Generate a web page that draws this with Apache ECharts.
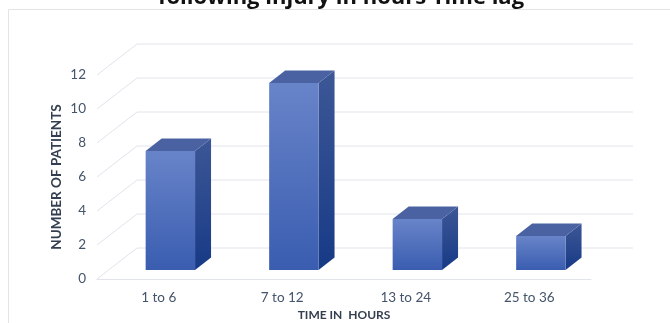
<!DOCTYPE html>
<html><head><meta charset="utf-8">
<script src="https://cdn.jsdelivr.net/npm/echarts@6/dist/echarts.min.js"></script>
<style>html,body{margin:0;padding:0;background:#fff}#c{width:670px;height:323px}</style>
</head><body><div id="c"></div>
<script>
const categories = ['1 to 6', '7 to 12', '13 to 24', '25 to 36'];
const patients = [7, 11, 3, 2];
const yTicks = [0, 2, 4, 6, 8, 10, 12];
const titleText = 'following injury in hours Time lag';
const xTitle = 'TIME IN  HOURS';
const yTitle = 'NUMBER OF PATIENTS';

const DX = 40, DY = -31;      // full depth offset of the 3D box
const ZF = 0.29, ZB = 0.69;   // bar front / back depth fraction
const gridColor = '#e1e4eb';

const chart = echarts.init(document.getElementById('c'), null, {renderer: 'canvas'});
chart.setOption({
  backgroundColor: '#fff',
  animation: false,
  graphic: [
    {type: 'rect', shape: {x: 8.5, y: 9.5, width: 700, height: 400}, style: {fill: 'none', stroke: '#e4e4e4', lineWidth: 1}, z: -10},
    {type: 'text', x: 341, y: -2, style: {text: titleText, font: 'bold 22px "Open Sans"', fill: '#111', textAlign: 'center', textVerticalAlign: 'middle'}}
  ],
  grid: {left: 97, right: 79, top: 75, bottom: 44, containLabel: false, outerBoundsMode: 'none'},
  xAxis: {
    type: 'category', data: categories,
    axisLine: {show: true, lineStyle: {color: gridColor, width: 1}},
    axisTick: {show: false},
    axisLabel: {color: '#44546a', fontFamily: 'Lato', fontSize: 13.5, margin: 12},
    name: xTitle, nameLocation: 'middle', nameGap: 30, nameMoveOverlap: false,
    nameTextStyle: {color: '#333f50', fontFamily: 'Lato', fontWeight: 'bold', fontSize: 12}
  },
  yAxis: {
    type: 'value', min: 0, max: 12, interval: 2,
    axisLine: {show: false}, axisTick: {show: false},
    splitLine: {show: false},
    axisLabel: {color: '#44546a', fontFamily: 'Lato', fontSize: 13.5, margin: 11},
    name: yTitle, nameLocation: 'middle', nameGap: 33, nameMoveOverlap: false,
    nameTextStyle: {color: '#333f50', fontFamily: 'Lato', fontWeight: 'bold', fontSize: 13.5}
  },
  series: [
    {
      type: 'custom', z: 1,
      data: yTicks.map(v => [0, v]),
      encode: {x: 0, y: 1},
      renderItem: function (params, api) {
        const cs = params.coordSys;
        const y = api.coord([0, api.value(1)])[1];
        const x0 = cs.x, x1 = cs.x + cs.width;
        return {
          type: 'polyline',
          shape: {points: [[x0, y], [x0 + DX, y + DY], [x1 + DX + 2, y + DY]]},
          style: {stroke: gridColor, lineWidth: 1, fill: null}
        };
      }
    },
    {
      type: 'custom', z: 2,
      data: patients.map((v, i) => [i, v]),
      encode: {x: 0, y: 1},
      renderItem: function (params, api) {
        const i = api.value(0), v = api.value(1);
        const top = api.coord([i, v]);
        const base = api.coord([i, 0]);
        const w = api.size([1, 0])[0] * 0.4;
        const xl = top[0] - w / 2 + DX * ZF, xr = top[0] + w / 2 + DX * ZF;
        const yt = top[1] + DY * ZF, yb = base[1] + DY * ZF;
        const dx = DX * (ZB - ZF), dy = DY * (ZB - ZF);
        return {
          type: 'group',
          children: [
            {type: 'polygon', shape: {points: [[xr, yt], [xr + dx, yt + dy], [xr + dx, yb + dy], [xr, yb]]},
             style: {fill: new echarts.graphic.LinearGradient(0, 0, 0, 1, [{offset: 0, color: '#3d5796'}, {offset: 1, color: '#173a86'}])}},
            {type: 'polygon', shape: {points: [[xl, yt], [xl + dx, yt + dy], [xr + dx, yt + dy], [xr, yt]]},
             style: {fill: '#4a62a2'}},
            {type: 'rect', shape: {x: xl, y: yt, width: xr - xl, height: yb - yt},
             style: {fill: new echarts.graphic.LinearGradient(0, 0, 0, 1, [{offset: 0, color: '#6884c9'}, {offset: 1, color: '#3a5db0'}])}}
          ]
        };
      }
    }
  ]
});
</script></body></html>
